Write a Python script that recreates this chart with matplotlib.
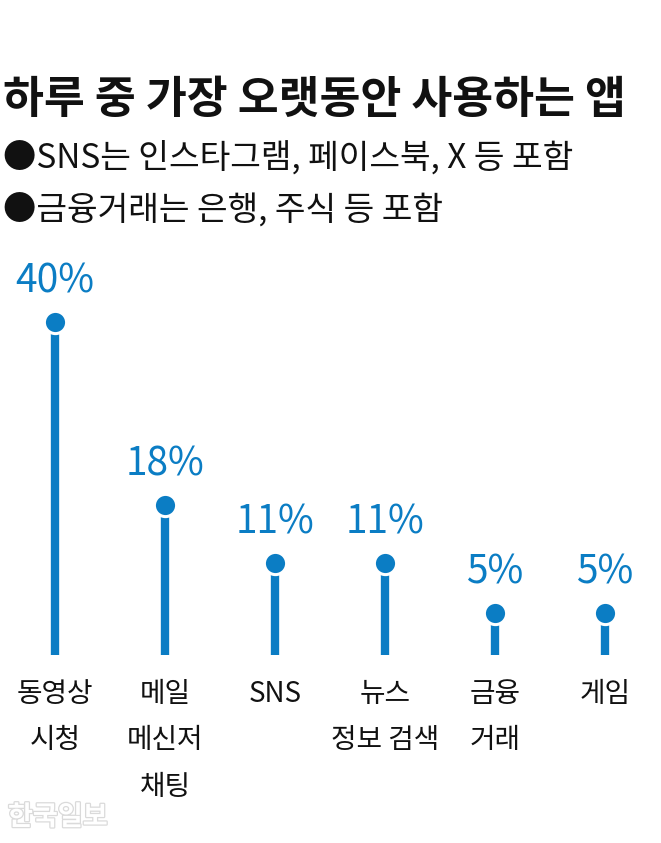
import matplotlib
matplotlib.use("Agg")
import matplotlib.pyplot as plt
import matplotlib.patheffects as pe

plt.rcParams['font.family'] = ['Noto Sans CJK KR', 'DejaVu Sans']

# Data
categories = ['동영상\n시청', '메일\n메신저\n채팅', 'SNS', '뉴스\n정보 검색', '금융\n거래', '게임']
shares = [40, 18, 11, 11, 5, 5]
value_labels = ['40%', '18%', '11%', '11%', '5%', '5%']

title = '하루 중 가장 오랫동안 사용하는 앱'
notes = ['●SNS는 인스타그램, 페이스북, X 등 포함',
         '●금융거래는 은행, 주식 등 포함']
credit = '한국일보'

BLUE = '#0b7dc4'
W, H = 661, 843

fig = plt.figure(figsize=(W / 100, H / 100), dpi=100)
fig.patch.set_facecolor('white')

# axes: baseline at y=655px, 8.32 px per percent, 110 px per category
ax_bottom = (H - 655) / H
ax_height = 50 * 8.32 / H
ax = fig.add_axes([0, ax_bottom, 660 / W, ax_height])
ax.set_xlim(-0.5, len(categories) - 0.5)
ax.set_ylim(0, 50)
ax.axis('off')

xs = list(range(len(categories)))
ax.vlines(xs, 0, shares, colors=BLUE, linewidth=6, capstyle='butt', zorder=2)
ax.plot(xs, shares, 'o', color=BLUE, markersize=16, markeredgecolor='white',
        markeredgewidth=2.2, zorder=3, clip_on=False)

for x, v, lab in zip(xs, shares, value_labels):
    ax.annotate(lab, (x, v), xytext=(0, 15), textcoords='offset points',
                ha='center', va='bottom', color=BLUE, fontsize=28)

for x, cat in zip(xs, categories):
    ax.annotate(cat, (x, 0), xytext=(0, -17), textcoords='offset points',
                ha='center', va='top', color='#111111', fontsize=20,
                linespacing=1.72)

# header
fig.text(3 / W, 1 - 100 / H, title, ha='left', va='center',
         fontsize=32, fontweight='bold', color='#111111')
fig.text(3 / W, 1 - 158 / H, notes[0], ha='left', va='center',
         fontsize=24, color='#111111')
fig.text(3 / W, 1 - 211 / H, notes[1], ha='left', va='center',
         fontsize=24, color='#111111')

# watermark
fig.text(8 / W, 1 - 817 / H, credit, ha='left', va='center',
         fontsize=19.5, fontweight='bold', color='white',
         path_effects=[pe.withStroke(linewidth=1.8, foreground='#dadada')])

fig.savefig('out.png', dpi=100, facecolor='white')
